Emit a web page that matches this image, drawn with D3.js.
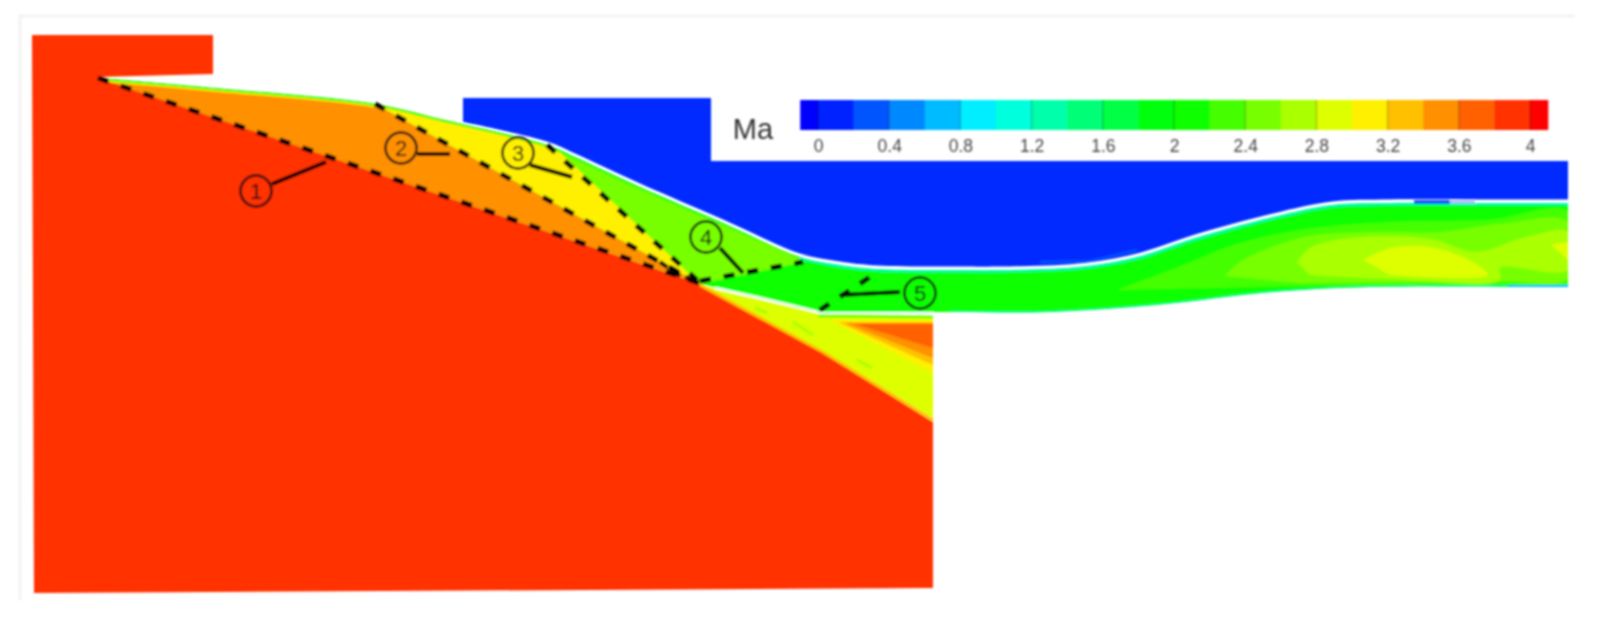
<!DOCTYPE html>
<html lang="en">
  <head>
    <meta charset="utf-8">
    <title>Ma contour</title>
    <script src="https://d3js.org/d3.v7.min.js"></script>
    <style>
      html, body { margin: 0; padding: 0; background: #fff; }
      svg { display: block; }
      text { font-family: "Liberation Sans", Arial, sans-serif; }
    </style>
  </head>
  <body>
    <div id="chart"></div>
    <script type="text/javascript">
      // legend
      var levels = [-0.1, 0, 0.2, 0.4, 0.6, 0.8, 1, 1.2, 1.4, 1.6, 1.8, 2, 2.2, 2.4, 2.6, 2.8, 3, 3.2, 3.4, 3.6, 3.8, 4, 4.1];
      var levelColors = ["#0000ff", "#0022ff", "#0055ff", "#0088ff", "#00bbff", "#00eeff", "#00ffdd", "#00ffaa", "#00ff77", "#00ff44", "#00ff11",
                         "#11ff00", "#44ff00", "#77ff00", "#aaff00", "#ddff00", "#fff000", "#ffc000", "#ff9000", "#ff6000", "#ff3000", "#ff0000"];
      var tickValues = [0, 0.4, 0.8, 1.2, 1.6, 2, 2.4, 2.8, 3.2, 3.6, 4];

      // geometry, in picture units
      var wallTop = [[98, 78], [213, 88], [375, 104], [440, 119], [547, 145], [575, 157], [640, 187], [723, 223], [800, 257], [840, 265], [877, 269], [960, 270], [1000, 270], [1078, 267], [1137, 257], [1195, 238], [1273, 217], [1332, 205], [1390, 203], [1480, 203], [1568, 203]];
      var wallBottom = [[700, 284], [760, 298], [818, 312], [950, 312], [1050, 312], [1156, 305], [1273, 292], [1371, 287], [1568, 287]];
      var outerDomain = [[32, 35], [213, 35], [213, 74], [98, 77], [700, 284], [823, 353], [933, 422], [933, 588], [34, 593]];
      var blueBlock = [[463, 98], [711, 98], [711, 161], [1568, 161]];
      var fanBase = [[700, 285], [818, 313], [933, 316], [933, 418], [823, 351]];
      var fanSectors = [
        {level: 16, pts: [[830, 320], [933, 320], [933, 373]]},
        {level: 17, pts: [[838, 322], [933, 322], [933, 365]]},
        {level: 18, pts: [[845, 323], [933, 323], [933, 358]]},
        {level: 19, pts: [[855, 324], [933, 324], [933, 348]]}
      ];
      var fanFlecks = [[[793, 322], [813, 335]], [[857, 360], [872, 368]], [[755, 308], [767, 313]]];

      var orangeZone = [[98, 78], [213, 88], [375, 104], [700, 284]];
      var yellowZone = [[375, 104], [440, 110], [547, 140], [700, 284]];
      var limeZone = [[547, 140], [640, 180], [723, 215], [803, 250], [803, 262], [700, 284]];

      // downstream contour islands
      var contour44 = [[1117, 290], [1176, 268], [1234, 245], [1300, 230], [1390, 222], [1488, 220], [1568, 212], [1568, 283], [1500, 284], [1300, 286]];
      var contour77 = [[1225, 276], [1240, 262], [1300, 238], [1370, 232], [1440, 232], [1500, 224], [1568, 222], [1568, 278], [1500, 281], [1300, 283]];
      var contourAa = [[1297, 262], [1310, 248], [1352, 238], [1430, 239], [1476, 252], [1523, 238], [1568, 232], [1568, 270], [1500, 268], [1500, 280], [1390, 279], [1310, 275]];
      var contourDd = [[1363, 260], [1390, 248], [1430, 247], [1469, 260], [1488, 275], [1390, 275]];
      var contourDdEnd = [[1551, 245], [1568, 243], [1568, 260]];

      // shocks
      var shockLines = [
        [[98, 78], [699, 283]],
        [[375, 104], [678, 272]],
        [[547, 145], [697, 280]],
        [[700, 281], [803, 262]],
        [[820, 310], [870, 277]]
      ];
      var tailDashes = [[[660, 262], [680, 276]], [[672, 268], [692, 281]]];

      // numbered callouts: number, circle, then the leader
      var calloutNames = ["1", "2", "3", "4", "5"];
      var calloutCircles = [[256, 191], [401, 148], [518, 153], [706, 237], [920, 293]];
      var calloutLeaders = [
        [[272, 184], [326, 162]],
        [[417, 154], [450, 154]],
        [[530, 165], [572, 177]],
        [[720, 248], [743, 273]],
        [[900, 292], [840, 295]]
      ];

      var width = 1612, height = 628;
      var x = d3.scaleLinear().domain([0, 1612]).range([0, width]);
      var y = d3.scaleLinear().domain([0, 628]).range([0, height]);
      var legendX = d3.scaleLinear().domain([0, 4]).range([818, 1530]);

      var line = d3.line().x(function (d) { return x(d[0]); }).y(function (d) { return y(d[1]); });
      var smooth = d3.line().x(function (d) { return x(d[0]); }).y(function (d) { return y(d[1]); }).curve(d3.curveCatmullRom.alpha(0.5));
      function poly(pts) { return line(pts) + "Z"; }

      var svg = d3.select("#chart").append("svg").attr("width", width).attr("height", height);
      var defs = svg.append("defs");
      defs.append("filter").attr("id", "soft")
        .attr("filterUnits", "userSpaceOnUse")
        .attr("x", 0).attr("y", 0).attr("width", width).attr("height", height)
        .append("feGaussianBlur").attr("stdDeviation", 0.8);

      // flow passage = top wall + bottom wall reversed
      var flowPath = smooth(wallTop) + "L" + smooth(wallBottom.slice().reverse()).slice(1) + "Z";
      defs.append("clipPath").attr("id", "flow").append("path").attr("d", flowPath);

      var g = svg.append("g").attr("filter", "url(#soft)");

      // faint frame of the original figure
      g.append("path").attr("d", line([[20, 600], [20, 16], [1575, 16]]))
        .attr("fill", "none").attr("stroke", "#f3f3f3").attr("stroke-width", 3);

      g.append("path").attr("d", poly(outerDomain)).attr("fill", levelColors[20]);

      // expansion fan under the cowl
      g.append("path").attr("d", poly(fanBase)).attr("fill", levelColors[15]);
      fanSectors.forEach(function (s) {
        g.append("path").attr("d", poly(s.pts)).attr("fill", levelColors[s.level]);
      });
      fanFlecks.forEach(function (f) {
        g.append("path").attr("d", line(f)).attr("stroke", "#a8ff00").attr("stroke-width", 3).attr("fill", "none");
      });
      g.append("path").attr("d", line([[700, 285], [823, 352], [933, 420]]))
        .attr("fill", "none").attr("stroke", levelColors[17]).attr("stroke-width", 3);
      g.append("path").attr("d", line([[818, 316], [933, 317]]))
        .attr("fill", "none").attr("stroke", levelColors[13]).attr("stroke-width", 3);

      // flow passage
      var flow = g.append("g").attr("clip-path", "url(#flow)");
      flow.append("path").attr("d", flowPath).attr("fill", levelColors[11]);
      flow.append("path").attr("d", poly(limeZone)).attr("fill", levelColors[13]);
      flow.append("path").attr("d", poly(yellowZone)).attr("fill", levelColors[16]);
      flow.append("path").attr("d", poly(orangeZone)).attr("fill", levelColors[18]);
      [[contour44, 12], [contour77, 13], [contourAa, 14], [contourDd, 15], [contourDdEnd, 15]].forEach(function (c) {
        flow.append("path").attr("d", smooth(c[0]) + "Z").attr("fill", levelColors[c[1]]);
      });

      // boundary layers along the walls
      flow.append("path").attr("d", smooth(wallTop.slice(0, 5))).attr("fill", "none").attr("stroke", levelColors[16]).attr("stroke-width", 7);
      flow.append("path").attr("d", smooth(wallTop.slice(0, 9))).attr("fill", "none").attr("stroke", levelColors[10]).attr("stroke-width", 4);
      flow.append("path").attr("d", smooth(wallTop.slice(8))).attr("fill", "none").attr("stroke", levelColors[7]).attr("stroke-width", 5);
      flow.append("path").attr("d", smooth(wallBottom.slice(3))).attr("fill", "none").attr("stroke", levelColors[8]).attr("stroke-width", 3);
      flow.append("path").attr("d", line([[1508, 287], [1568, 287]])).attr("fill", "none").attr("stroke", levelColors[4]).attr("stroke-width", 4);

      // white gaps at the walls
      g.append("path").attr("d", line([[715, 288], [760, 298], [818, 312]])).attr("fill", "none").attr("stroke", "#fff").attr("stroke-width", 2.5);
      g.append("path").attr("d", line([[818, 313], [933, 313]])).attr("fill", "none").attr("stroke", "#eafff4").attr("stroke-width", 2);

      // blue block, its lower edge sits just above the top wall
      var blueEdge = wallTop.filter(function (d) { return d[0] >= 440; }).map(function (d) { return [d[0], d[1] - 3.5]; });
      blueEdge[0] = [463, 122];
      var bluePath = line(blueBlock) + "L" + smooth(blueEdge.slice().reverse()).slice(1) + "Z";
      g.append("path").attr("d", bluePath).attr("fill", "#002cff");
      g.append("path").attr("d", line([[1040, 262], [1090, 261], [1137, 250]])).attr("fill", "none").attr("stroke", levelColors[2]).attr("stroke-width", 2);
      g.append("path").attr("d", line([[1414, 202], [1450, 202]])).attr("fill", "none").attr("stroke", levelColors[1]).attr("stroke-width", 3);
      g.append("path").attr("d", line([[1450, 202], [1475, 202]])).attr("fill", "none").attr("stroke", "#a8b8ff").attr("stroke-width", 3);

      // legend
      var legend = g.append("g");
      legend.selectAll("rect").data(levelColors).enter().append("rect")
        .attr("x", function (d, i) { return legendX(levels[i]); })
        .attr("width", function (d, i) { return legendX(levels[i + 1]) - legendX(levels[i]) + 0.5; })
        .attr("y", y(100)).attr("height", y(130) - y(100))
        .attr("fill", function (d) { return d; });
      legend.selectAll("line").data(tickValues).enter().append("line")
        .attr("x1", function (d) { return legendX(d); }).attr("x2", function (d) { return legendX(d); })
        .attr("y1", y(100)).attr("y2", y(130))
        .attr("stroke", "#000").attr("stroke-opacity", 0.22).attr("stroke-width", 1.5);

      var axis = d3.axisBottom(legendX).tickValues(tickValues).tickSize(0).tickPadding(0).tickFormat(function (d) { return String(d); });
      var axisG = legend.append("g").attr("transform", "translate(0," + y(140) + ")").call(axis);
      axisG.select(".domain").remove();
      axisG.selectAll("text").attr("fill", "#444").attr("font-size", 17.5)
        .attr("font-family", "'Liberation Sans', Arial, sans-serif");

      g.append("text").attr("x", x(753)).attr("y", y(139)).attr("text-anchor", "middle")
        .attr("font-size", 29).attr("fill", "#333").text("Ma");

      // shocks
      shockLines.forEach(function (s) {
        g.append("path").attr("d", line(s)).attr("fill", "none").attr("stroke", "#000")
          .attr("stroke-width", 5).attr("stroke-dasharray", "11 13");
      });
      tailDashes.forEach(function (s) {
        g.append("path").attr("d", line(s)).attr("fill", "none").attr("stroke", "#000")
          .attr("stroke-width", 4).attr("stroke-dasharray", "9 7");
      });

      // callouts
      calloutLeaders.forEach(function (s) {
        g.append("path").attr("d", line(s)).attr("fill", "none").attr("stroke", "#000").attr("stroke-width", 4);
      });
      calloutCircles.forEach(function (c, i) {
        g.append("circle").attr("cx", x(c[0])).attr("cy", y(c[1])).attr("r", 15.5)
          .attr("fill", "none").attr("stroke", "#111").attr("stroke-width", 2.5);
        g.append("text").attr("x", x(c[0])).attr("y", y(c[1]) + 8).attr("text-anchor", "middle")
          .attr("font-size", 22).attr("fill", "#111").text(calloutNames[i]);
      });
    </script>
  </body>
</html>
